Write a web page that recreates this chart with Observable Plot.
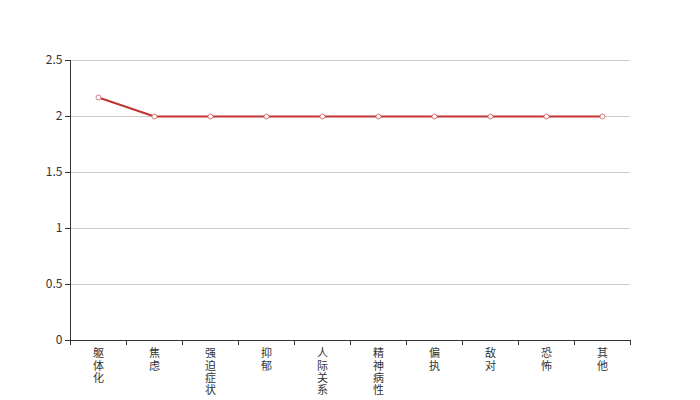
<!DOCTYPE html>
<html>
<head>
<meta charset="utf-8">
<script src="https://cdn.jsdelivr.net/npm/d3@7"></script>
<script src="https://cdn.jsdelivr.net/npm/@observablehq/plot@0.6"></script>
<style>
  html, body { margin: 0; padding: 0; background: #fff; }
  #chart { width: 700px; height: 400px; }
</style>
</head>
<body>
<div id="chart"></div>
<script>
const categories = ["躯体化", "焦虑", "强迫症状", "抑郁", "人际关系", "精神病性", "偏执", "敌对", "恐怖", "其他"];
const values = [2.17, 2, 2, 2, 2, 2, 2, 2, 2, 2];
const yTicks = [0, 0.5, 1, 1.5, 2, 2.5];

const data = categories.map((c, i) => ({ i, c, v: values[i] }));
const boundaries = d3.range(categories.length + 1);
const font = "'Noto Sans CJK SC', 'Microsoft YaHei', sans-serif";

const chart = Plot.plot({
  width: 700,
  height: 400,
  marginLeft: 70,
  marginRight: 70,
  marginTop: 60,
  marginBottom: 60,
  style: { fontFamily: font, fontSize: "12px", color: "#333", background: "#fff" },
  x: { type: "linear", domain: [0, categories.length] },
  y: { domain: [0, 2.5] },
  marks: [
    Plot.ruleY(yTicks, { stroke: "#ccc", strokeWidth: 1 }),
    Plot.axisY({ ticks: yTicks, tickFormat: d => String(d), tickSize: 5, tickPadding: 3, stroke: "#333", fill: "#333", label: null, fontSize: 12 }),
    Plot.ruleX([0], { stroke: "#333", strokeWidth: 1 }),
    Plot.ruleY([0], { stroke: "#333", strokeWidth: 1 }),
    Plot.axisX({ ticks: boundaries, tickFormat: () => "", tickSize: 5, stroke: "#333", label: null }),
    Plot.text(data, {
      x: d => d.i + 0.5,
      y: 0,
      text: d => d.c.split("").join("\n"),
      lineAnchor: "top",
      lineHeight: 1.12,
      dy: 8,
      fill: "#333",
      fontSize: 11
    }),
    Plot.line(data, { x: d => d.i + 0.5, y: "v", stroke: "#c23531", strokeWidth: 2 }),
    Plot.dot(data, { x: d => d.i + 0.5, y: "v", r: 2.5, fill: "#fff", stroke: "#d97a78", strokeWidth: 1 })
  ]
});
document.getElementById("chart").appendChild(chart);
</script>
</body>
</html>
